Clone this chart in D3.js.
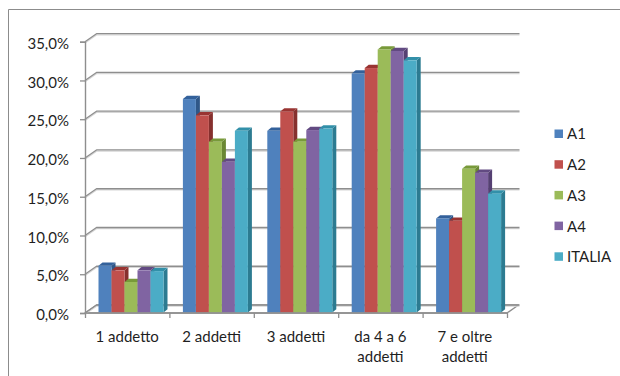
<!DOCTYPE html>
<html>
<head>
<meta charset="utf-8">
<script src="https://cdn.jsdelivr.net/npm/d3@7"></script>
<style>
  html, body { margin: 0; padding: 0; background: #fff; }
  svg { display: block; font-family: Lato, "Open Sans", sans-serif; }
</style>
</head>
<body>
<svg id="chart" width="620" height="376"></svg>
<script>
// Categories (a "\n" breaks the label onto a second line)
const categories = ["1 addetto", "2 addetti", "3 addetti", "da 4 a 6\naddetti", "7 e oltre\naddetti"];
const seriesNames = ["A1", "A2", "A3", "A4", "ITALIA"];

// Percent share per category, one array per series
const A1     = [6.1, 27.6, 23.5, 30.9, 12.2];
const A2     = [5.5, 25.5, 26.0, 31.6, 11.9];
const A3     = [4.0, 22.1, 22.1, 34.0, 18.6];
const A4     = [5.5, 19.5, 23.6, 33.8, 18.1];
const ITALIA = [5.4, 23.5, 23.8, 32.6, 15.4];

const yTicks = [0, 5, 10, 15, 20, 25, 30, 35];

const seriesValues = { A1, A2, A3, A4, ITALIA };

// front, top and side shades of each 3D column
const palette = {
  A1:     { front: "#4f81bd", top: "#33619b", side: "#2f5788" },
  A2:     { front: "#c0504d", top: "#993432", side: "#86302e" },
  A3:     { front: "#9bbb59", top: "#789a3a", side: "#6a8734" },
  A4:     { front: "#8064a2", top: "#624a82", side: "#554072" },
  ITALIA: { front: "#4bacc6", top: "#3290a9", side: "#2c7b91" }
};

const svg = d3.select("#chart");
const itFormat = d3.formatLocale({ decimal: ",", thousands: ".", grouping: [3], currency: ["", "€"] }).format(".1f");
const FONT_SIZE = 15;
const TEXT_COLOR = "#1f1f1f";

// plot geometry
const plotLeft = 85, plotRight = 507, plotBase = 313, plotTop = 41.7;
const DX = 11.5, DY = -8;        // wall depth offset
const bdx = 4, bdy = -3.3;       // column depth offset

const y = d3.scaleLinear().domain([0, 35]).range([plotBase, plotTop]);
const x0 = d3.scaleBand().domain(d3.range(categories.length)).range([plotLeft, plotRight]);
const x1 = d3.scaleBand().domain(seriesNames).range([13.5, 78.5]);

// outer frame
svg.append("path")
  .attr("d", "M8.5,376V9.5H620")
  .attr("fill", "none").attr("stroke", "#8c8c8c").attr("stroke-width", 1);

const grid = svg.append("g").attr("fill", "none").attr("stroke-linejoin", "round");

// floor
grid.append("path")
  .attr("d", `M${plotLeft},${plotBase}L${plotLeft + DX},${plotBase + DY}H${plotRight + DX}L${plotRight},${plotBase}Z`)
  .attr("fill", "#fff").attr("stroke", "#8e8e8e").attr("stroke-width", 1.4);

// back-wall gridlines with their side-wall diagonals
yTicks.forEach(t => {
  const yy = y(t);
  grid.append("path")
    .attr("d", `M${plotLeft},${yy}L${plotLeft + DX},${yy + DY}H${plotRight + DX + 1}`)
    .attr("stroke", "#d6d6d6").attr("stroke-width", 1.2)
    .attr("transform", "translate(0,1.2)");
  grid.append("path")
    .attr("d", `M${plotLeft},${yy}L${plotLeft + DX},${yy + DY}H${plotRight + DX + 1}`)
    .attr("stroke", "#8e8e8e").attr("stroke-width", 1.3);
});

// value axis
const yAxis = d3.axisLeft(y)
  .tickValues(yTicks)
  .tickSize(5)
  .tickPadding(11)
  .tickFormat(d => itFormat(d) + "%");
const gy = svg.append("g").attr("transform", `translate(${plotLeft},0)`).call(yAxis);
gy.select(".domain").attr("stroke", "#8e8e8e").attr("stroke-width", 1.4);
gy.selectAll(".tick line").attr("stroke", "#8e8e8e").attr("stroke-width", 1.3);
gy.selectAll(".tick text")
  .attr("font-size", FONT_SIZE).attr("fill", TEXT_COLOR)
  .attr("font-family", "Lato, sans-serif")
  .attr("dy", "0.45em");

// columns
const bars = svg.append("g");
categories.forEach((c, ci) => {
  seriesNames.forEach(s => {
    const v = seriesValues[s][ci];
    const col = palette[s];
    const bx = x0(ci) + x1(s);
    const bw = x1.bandwidth();
    const by = y(v);
    const bb = y(0) - 0.5;
    const g = bars.append("g");
    // side face
    g.append("path")
      .attr("d", `M${bx + bw},${bb}L${bx + bw + bdx},${bb + bdy}V${by + bdy}L${bx + bw},${by}Z`)
      .attr("fill", col.side);
    // top face
    g.append("path")
      .attr("d", `M${bx},${by}L${bx + bdx},${by + bdy}H${bx + bw + bdx}L${bx + bw},${by}Z`)
      .attr("fill", col.top);
    // front face
    g.append("rect")
      .attr("x", bx).attr("y", by)
      .attr("width", bw).attr("height", bb - by)
      .attr("fill", col.front);
  });
});

// category axis: boundary ticks
const xb = d3.scaleLinear().domain([0, categories.length]).range([plotLeft, plotRight]);
const xAxis = d3.axisBottom(xb).ticks(categories.length).tickSize(5).tickFormat("");
const gx = svg.append("g").attr("transform", `translate(0,${plotBase})`).call(xAxis);
gx.select(".domain").remove();
gx.selectAll(".tick line").attr("stroke", "#8e8e8e").attr("stroke-width", 1.3);
svg.append("line")
  .attr("x1", plotLeft).attr("x2", plotRight).attr("y1", plotBase).attr("y2", plotBase)
  .attr("stroke", "#8e8e8e").attr("stroke-width", 1.4);

// category labels
const labels = svg.append("g")
  .attr("font-size", FONT_SIZE).attr("fill", TEXT_COLOR).attr("text-anchor", "middle");
categories.forEach((c, ci) => {
  const cx = x0(ci) + x0.bandwidth() / 2;
  const t = labels.append("text").attr("x", cx).attr("y", 342);
  c.split("\n").forEach((line, li) => {
    t.append("tspan")
      .attr("x", cx)
      .attr("dy", li === 0 ? 0 : 20)
      .text(line);
  });
});

// legend
const legend = svg.append("g").attr("font-size", FONT_SIZE).attr("fill", TEXT_COLOR);
seriesNames.forEach((s, i) => {
  const ly = 134 + i * 30.7;
  legend.append("rect")
    .attr("x", 554.5).attr("y", ly - 4.5)
    .attr("width", 8.5).attr("height", 8.5)
    .attr("fill", palette[s].front);
  legend.append("text")
    .attr("x", 567).attr("y", ly).attr("dy", "0.36em")
    .text(s);
});
</script>
</body>
</html>
